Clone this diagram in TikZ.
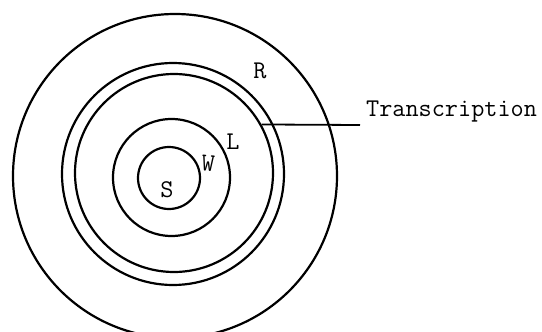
\documentclass[tikz,border=0pt]{standalone}
\usepackage{fontspec}
\usetikzlibrary{positioning,calc}
\tikzset{
  ring/.style={circle,draw=black,line width=2.2pt,inner sep=0pt},
  tag/.style={font=\ttfamily\fontsize{25.5}{29}\selectfont,inner sep=0pt},
  leader/.style={line width=1.8pt,black}
}
\begin{document}
\begin{tikzpicture}[x=1pt,y=-1pt]
    \useasboundingbox (0,0) rectangle (542,332);
    \clip (0,0) rectangle (542,332);
    \node[ring,minimum size=324pt] (outer) at (175,176) {};
    \node[ring,minimum size=222pt] (rim) at (173,174) {};
    \node[ring,minimum size=198pt] (trans) at (174,173) {};
    \node[ring,minimum size=117pt] (lring) at (171.5,177.5) {};
    \node[ring,minimum size=62pt] (sring) at (169,178) {};
    \node[tag] (rlab) at (260,71) {R};
    \node[tag] (llab) at (233,142) {L};
    \node[tag,rotate=-5] (wlab) at (208,163) {W};
    \node[tag] (slab) at (167,190) {S};
    \node[tag,anchor=base west] (tlab) at (366,116) {Transcription};
    \coordinate (tend) at (360,125);
    \draw[leader] (trans.29) -- (tend);
  \end{tikzpicture}
\end{document}
